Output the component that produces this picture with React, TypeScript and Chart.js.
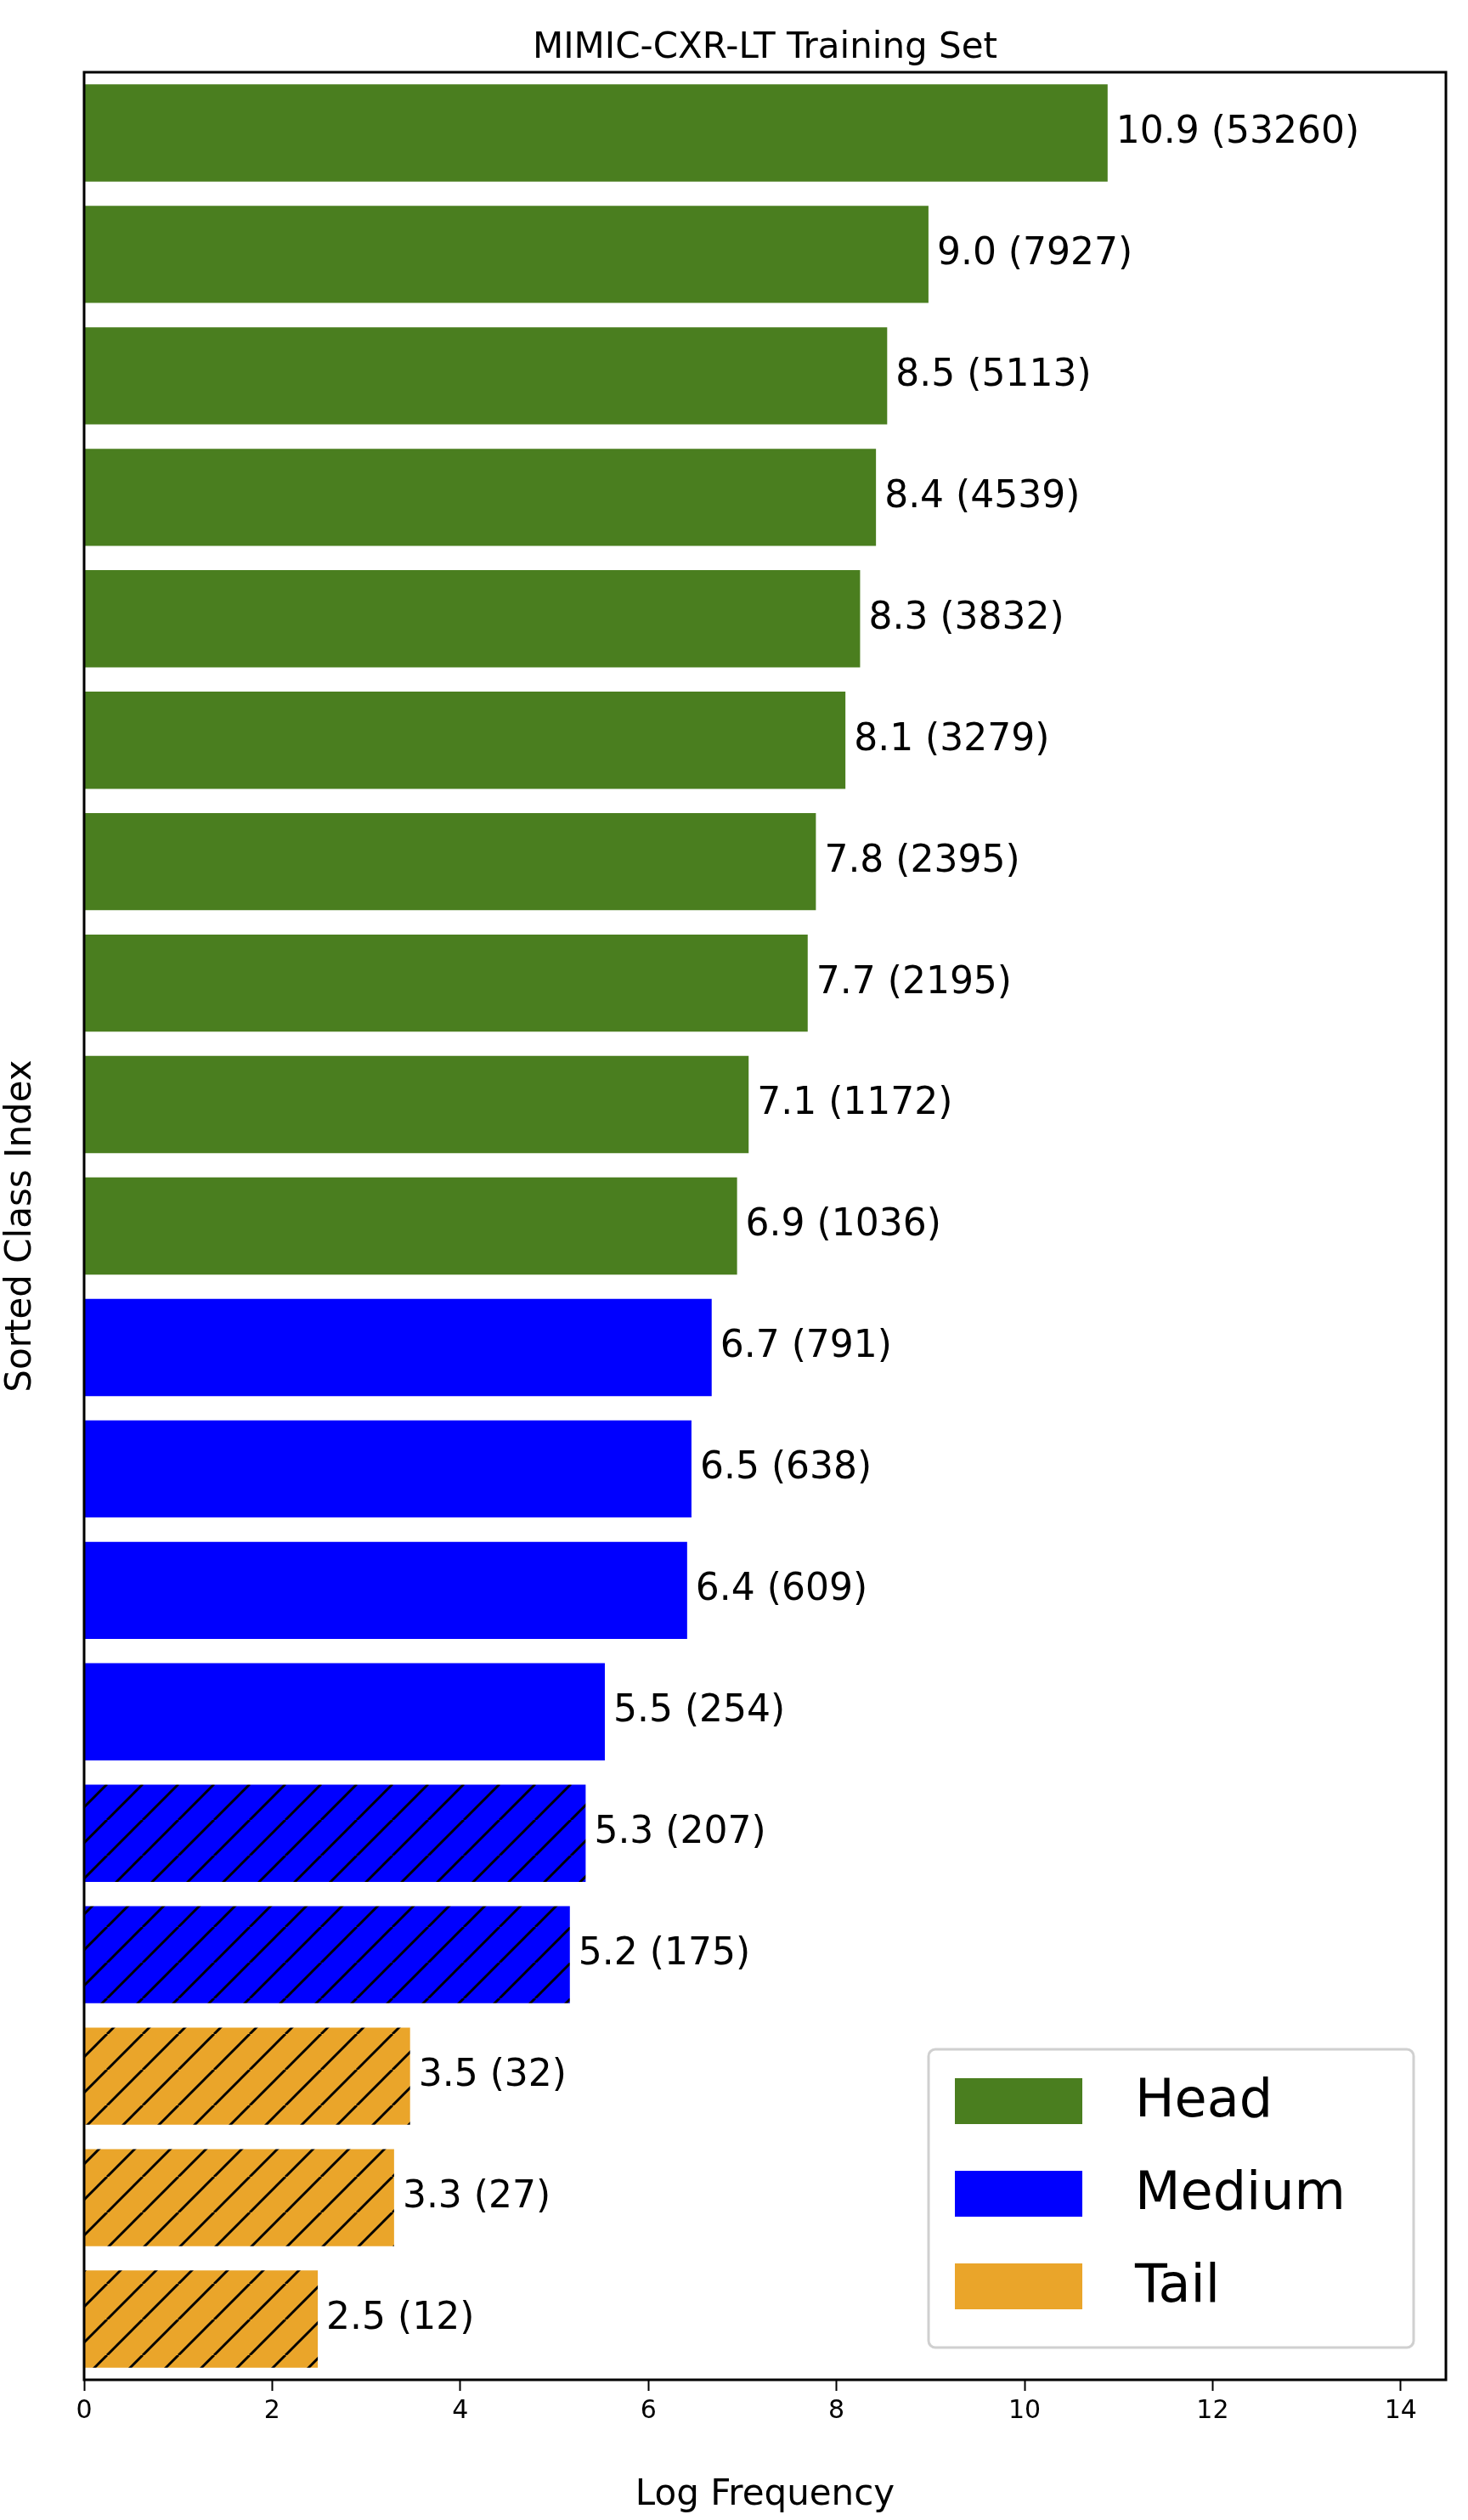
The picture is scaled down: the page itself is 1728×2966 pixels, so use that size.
import React, { useEffect, useRef } from "react";
import { Chart, registerables } from "chart.js";
Chart.register(...registerables);

const categories = Array.from({ length: 19 }, (_, i) => String(i));
const logValues = [10.883, 8.978, 8.539, 8.42, 8.251, 8.095, 7.781, 7.694, 7.066, 6.943, 6.673, 6.458, 6.412, 5.537, 5.333, 5.165, 3.466, 3.296, 2.485];
const counts = [53260, 7927, 5113, 4539, 3832, 3279, 2395, 2195, 1172, 1036, 791, 638, 609, 254, 207, 175, 32, 27, 12];
const groups = ["H","H","H","H","H","H","H","H","H","H","M","M","M","M","M","M","T","T","T"];
const hatched = [false,false,false,false,false,false,false,false,false,false,false,false,false,false,true,true,true,true,true];
const xTicks = [0, 2, 4, 6, 8, 10, 12, 14];
const legendLabels = ["Head", "Medium", "Tail"];
const COLORS: Record<string, string> = { H: "#4a7e1f", M: "#0000ff", T: "#eaa52a" };
const FONT = "'DejaVu Sans', sans-serif";

function hatch(color: string) {
  const s = 42;
  const c = document.createElement("canvas");
  c.width = s; c.height = s;
  const g = c.getContext("2d")!;
  g.fillStyle = color; g.fillRect(0, 0, s, s);
  g.strokeStyle = "#000"; g.lineWidth = 3;
  for (const o of [-s, 0, s]) {
    g.beginPath(); g.moveTo(o, s); g.lineTo(o + s, 0); g.stroke();
  }
  return g.createPattern(c, "repeat")!;
}

export default function App() {
  const ref = useRef<HTMLCanvasElement>(null);
  useEffect(() => {
    document.body.style.margin = "0";
    const bg = groups.map((g, i) => (hatched[i] ? hatch(COLORS[g]) : COLORS[g]));
    const plug = {
      id: "extras",
      afterDatasetsDraw(chart: any) {
        const ctx = chart.ctx;
        const a = chart.chartArea;
        const meta = chart.getDatasetMeta(0);
        ctx.save();
        ctx.fillStyle = "#000";
        ctx.font = `44px ${FONT}`;
        ctx.textBaseline = "middle";
        meta.data.forEach((el: any, i: number) => {
          ctx.fillText(`${logValues[i].toFixed(1)} (${counts[i]})`, el.x + 10, el.y);
        });
        ctx.lineWidth = 3; ctx.strokeStyle = "#000";
        ctx.strokeRect(a.left, a.top, a.right - a.left, a.bottom - a.top);
        ctx.font = `42px ${FONT}`;
        ctx.textAlign = "center"; ctx.textBaseline = "alphabetic";
        ctx.fillText("MIMIC-CXR-LT Training Set", (a.left + a.right) / 2, 68);
        // legend
        const lx = 1093, ly = 2412, lw = 571, lh = 351;
        ctx.fillStyle = "#fff"; ctx.strokeStyle = "#d0d0d0"; ctx.lineWidth = 3;
        ctx.beginPath(); ctx.roundRect(lx, ly, lw, lh, 8); ctx.fill(); ctx.stroke();
        ctx.font = `62px ${FONT}`; ctx.textAlign = "left"; ctx.textBaseline = "middle";
        ["H", "M", "T"].forEach((g, i) => {
          const cy = 2473 + i * 109;
          ctx.fillStyle = COLORS[g];
          ctx.fillRect(1124, cy - 27, 150, 54);
          ctx.fillStyle = "#000";
          ctx.fillText(legendLabels[i], 1336, cy + 2);
        });
        ctx.restore();
      },
    };
    const chart = new Chart(ref.current!, {
      type: "bar",
      data: {
        labels: categories,
        datasets: [{ data: logValues, backgroundColor: bg as any, categoryPercentage: 1, barPercentage: 0.8 }],
      },
      options: {
        indexAxis: "y",
        animation: false,
        responsive: false,
        layout: { padding: { top: 85, right: 26, left: 0, bottom: 0 } },
        plugins: { legend: { display: false }, tooltip: { enabled: false } },
        scales: {
          x: {
            min: 0, max: 14.48,
            afterBuildTicks: (s: any) => { s.ticks = xTicks.map((v) => ({ value: v })); },
            afterFit: (s: any) => { s.height = 165; },
            grid: { drawOnChartArea: false, drawTicks: true, tickLength: 13, tickColor: "#000", tickWidth: 2 },
            border: { display: false },
            ticks: { color: "#000", font: { family: FONT, size: 30 }, padding: 6 },
            title: { display: true, text: "Log Frequency", color: "#000", font: { family: FONT, size: 42 }, padding: { top: 10 } },
          },
          y: {
            afterFit: (s: any) => { s.width = 99; },
            grid: { display: false },
            border: { display: false },
            ticks: { display: false },
            title: { display: true, text: "Sorted Class Index", color: "#000", font: { family: FONT, size: 42 }, padding: 0 },
          },
        },
      },
      plugins: [plug],
    });
    return () => chart.destroy();
  }, []);
  return <canvas ref={ref} width={1728} height={2966} style={{ display: "block", width: 1728, height: 2966 }} />;
}
